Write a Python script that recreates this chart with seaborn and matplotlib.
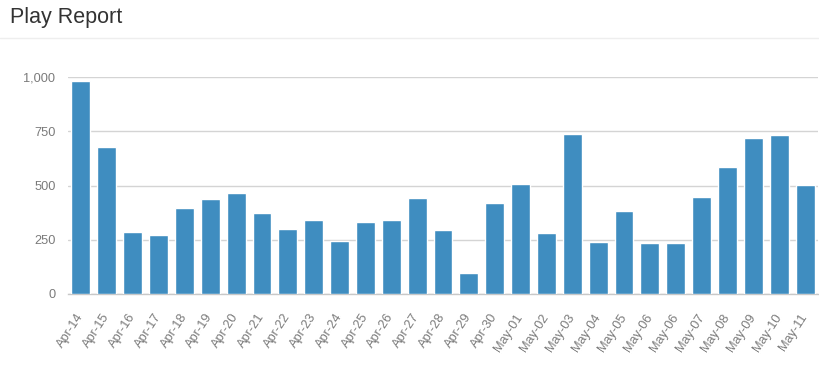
import matplotlib
matplotlib.use("Agg")
import matplotlib.pyplot as plt
import seaborn as sns
import pandas as pd
from matplotlib.ticker import FuncFormatter

dates = ["Apr-14", "Apr-15", "Apr-16", "Apr-17", "Apr-18", "Apr-19", "Apr-20",
         "Apr-21", "Apr-22", "Apr-23", "Apr-24", "Apr-25", "Apr-26", "Apr-27",
         "Apr-28", "Apr-29", "Apr-30", "May-01", "May-02", "May-03", "May-04",
         "May-05", "May-06", "May-06", "May-07", "May-08", "May-09", "May-10",
         "May-11"]
plays = [980, 677, 286, 274, 397, 437, 464, 374, 300, 340, 243, 332, 341, 441,
         294, 98, 421, 508, 283, 737, 240, 384, 236, 236, 446, 584, 720, 732, 502]
y_ticks = [0, 250, 500, 750, 1000]

sns.set_theme(style="white")
plt.rcParams['font.family'] = ['Liberation Sans', 'DejaVu Sans']

df = pd.DataFrame({"pos": list(range(len(dates))), "plays": plays})

fig = plt.figure(figsize=(8.19, 3.65), dpi=100)
ax = fig.add_axes([68 / 819, 1 - 294 / 365, (818 - 68) / 819, (294 - 77) / 365])

sns.barplot(data=df, x="pos", y="plays", color="#3f8dc0", saturation=1,
            width=0.73, ax=ax, zorder=3)

ax.set_ylim(0, 1000)
ax.set_xlim(-0.5, len(dates) - 0.5)
ax.set_yticks(y_ticks)
ax.yaxis.set_major_formatter(FuncFormatter(lambda v, p: f"{int(v):,}"))
ax.set_xticks(range(len(dates)))
ax.set_xticklabels(dates, rotation=57, ha="right", va="center",
                   rotation_mode="anchor")
ax.tick_params(axis="both", length=0)
ax.tick_params(axis="x", pad=15, labelsize=9.2)
ax.tick_params(axis="y", pad=9, labelsize=9.2)
for lbl in ax.get_xticklabels() + ax.get_yticklabels():
    lbl.set_color("#7a7a7a")
ax.grid(axis="y", color="#d4d4d4", linewidth=1, zorder=0)
ax.set_axisbelow(True)
for s in ["top", "right", "left"]:
    ax.spines[s].set_visible(False)
ax.spines["bottom"].set_color("#c8c8c8")
ax.spines["bottom"].set_linewidth(1)
ax.set_xlabel("")
ax.set_ylabel("")

fig.text(10 / 819, 1 - 23 / 365, "Play Report", fontsize=15.5, color="#333333",
         ha="left", va="baseline")
fig.add_artist(plt.Line2D([0, 1], [1 - 38 / 365, 1 - 38 / 365],
                          transform=fig.transFigure, color="#eeeeee", linewidth=1))

fig.savefig("out.png", dpi=100)
